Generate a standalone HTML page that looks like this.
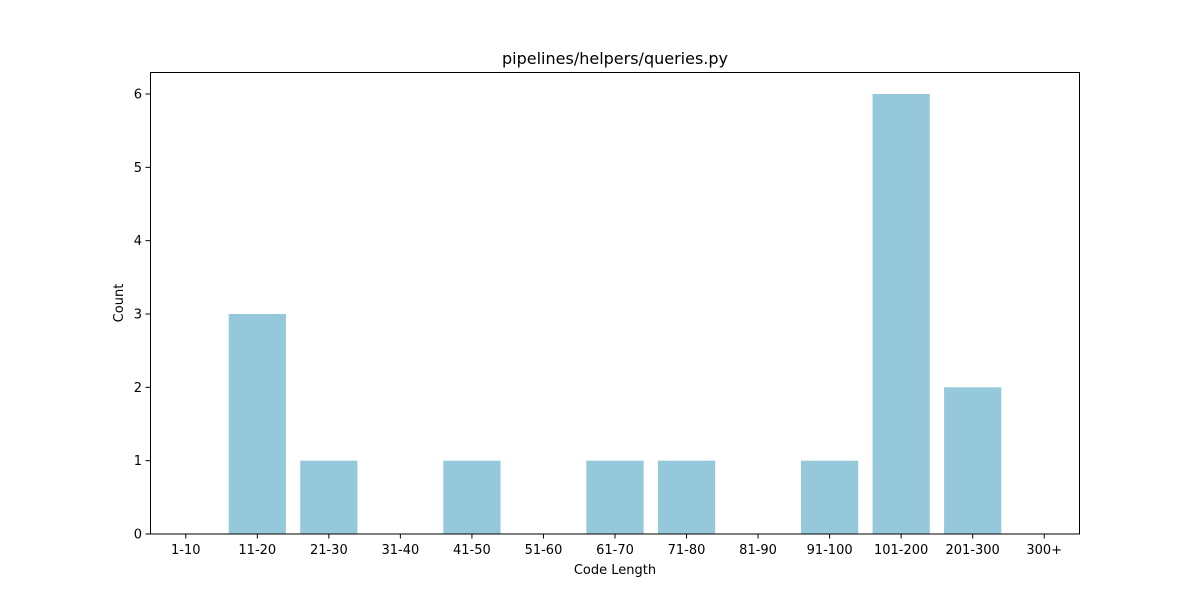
<!DOCTYPE html>
<html><head><meta charset="utf-8"><style>
body{margin:0;background:#fff;}
svg{display:block;font-family:"DejaVu Sans","Liberation Sans",sans-serif;}
</style></head><body>
<svg id="chart" width="1200" height="600">
<rect x="0" y="0" width="1200" height="600" fill="#fff"/>
<text x="615" y="64" font-size="16" text-anchor="middle">pipelines/helpers/queries.py</text>
<g id="bars"></g>
<g id="axes"></g>
<rect x="150.5" y="72.5" width="929" height="461.5" fill="none" stroke="#000" stroke-width="1"/>
<text x="615" y="574" font-size="13" text-anchor="middle">Code Length</text>
<text x="123" y="303" font-size="13" text-anchor="middle" transform="rotate(-90 123 303)">Count</text>
</svg>
<script>
const categories=["1-10","11-20","21-30","31-40","41-50","51-60","61-70","71-80","81-90","91-100","101-200","201-300","300+"];
const counts=[0,3,1,0,1,0,1,1,0,1,6,2,0];
const yTicks=[0,1,2,3,4,5,6];
const L=150,R=1080,T=72,B=534,yMax=6.3;
const step=(R-L)/categories.length;
const xs=i=>L+step*(i+0.5);
const ys=v=>B-(v/yMax)*(B-T);
const NS="http://www.w3.org/2000/svg";
const bars=document.getElementById('bars'),axes=document.getElementById('axes');
function mk(t,a,p){const e=document.createElementNS(NS,t);for(const k in a)e.setAttribute(k,a[k]);p.appendChild(e);return e;}
counts.forEach((v,i)=>{
 const w=step*0.8;
 const r=mk('rect',{x:xs(i)-w/2,y:ys(v),width:w,height:ys(0)-ys(v),fill:'#96c8dc'},bars);
 
 
});
categories.forEach((c,i)=>{
 const l=mk('line',{x1:xs(i),x2:xs(i),y1:B,y2:B+4.5,stroke:'#000'},axes);
 
 
 const t=mk('text',{x:xs(i),y:B+20,'font-size':13,'text-anchor':'middle'},axes);
 t.textContent=c;
 
 
});
yTicks.forEach(v=>{
 const l=mk('line',{x1:L-4.5,x2:L,y1:ys(v),y2:ys(v),stroke:'#000'},axes);
 
 
 const t=mk('text',{x:L-8,y:ys(v)+4.5,'font-size':13,'text-anchor':'end'},axes);
 t.textContent=v;
 
 
});
</script>
</body></html>
